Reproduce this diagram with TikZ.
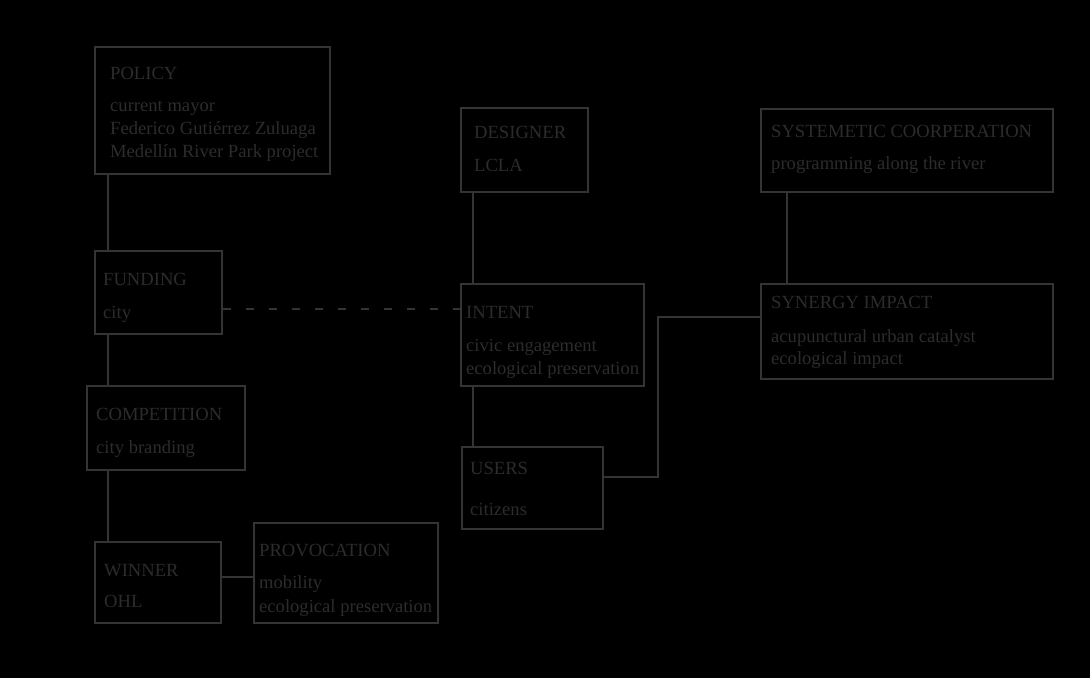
\documentclass[tikz,border=0pt]{standalone}
\usepackage{fontspec}
\setmainfont{Liberation Serif}
\usepackage{tikz}
\usetikzlibrary{positioning}

\definecolor{linegray}{RGB}{52,52,52}
\definecolor{txtgray}{RGB}{44,44,44}
\newcommand{\boxfont}{\fontsize{18.6}{23}\selectfont}

\tikzset{
    box/.style={draw=linegray, line width=2pt, anchor=north west, inner sep=0pt},
    txt/.style={anchor=base west, inner sep=0pt, text=txtgray, font=\boxfont},
    link/.style={draw=linegray, line width=2pt}
}

\begin{document}
\begin{tikzpicture}[x=1pt, y=-1pt]
    \fill[black] (0,0) rectangle (1090,678);
    \useasboundingbox (0,0) rectangle (1090,678);

    % boxes
    \node[box, minimum width=235pt, minimum height=127pt] (policy) at (94,46) {};
    \node[box, minimum width=127pt, minimum height=84pt] (designer) at (460,107) {};
    \node[box, minimum width=292pt, minimum height=83pt] (system) at (760,108) {};
    \node[box, minimum width=127pt, minimum height=83pt] (funding) at (94,250) {};
    \node[box, minimum width=183pt, minimum height=102pt] (intent) at (460,283) {};
    \node[box, minimum width=292pt, minimum height=95pt] (synergy) at (760,283) {};
    \node[box, minimum width=158pt, minimum height=84pt] (competition) at (86,385) {};
    \node[box, minimum width=141pt, minimum height=82pt] (users) at (461,446) {};
    \node[box, minimum width=126pt, minimum height=81pt] (winner) at (94,541) {};
    \node[box, minimum width=184pt, minimum height=100pt] (provocation) at (253,522) {};

    % texts
    \node[txt] (policyhd) at (110,79) {POLICY};
    \node[txt] (policya) at (110,111) {current mayor};
    \node[txt] (policyb) at (110,134) {Federico Gutiérrez Zuluaga};
    \node[txt] (policyc) at (110,157) {Medellín River Park project};

    \node[txt] (designerhd) at (474,138) {DESIGNER};
    \node[txt] (designera) at (474,171) {LCLA};

    \node[txt] (systemhd) at (771,137) {SYSTEMETIC COORPERATION};
    \node[txt] (systema) at (771,169) {programming along the river};

    \node[txt] (fundinghd) at (103,285) {FUNDING};
    \node[txt] (fundinga) at (103,318) {city};

    \node[txt] (intenthd) at (466,318) {INTENT};
    \node[txt] (intenta) at (466,351) {civic engagement};
    \node[txt] (intentb) at (466,374) {ecological preservation};

    \node[txt] (synergyhd) at (771,308) {SYNERGY IMPACT};
    \node[txt] (synergya) at (771,342) {acupunctural urban catalyst};
    \node[txt] (synergyb) at (771,364) {ecological impact};

    \node[txt] (competitionhd) at (96,420) {COMPETITION};
    \node[txt] (competitiona) at (96,453) {city branding};

    \node[txt] (usershd) at (470,474) {USERS};
    \node[txt] (usersa) at (470,515) {citizens};

    \node[txt] (winnerhd) at (104,576) {WINNER};
    \node[txt] (winnera) at (104,607) {OHL};

    \node[txt] (provocationhd) at (259,556) {PROVOCATION};
    \node[txt] (provocationa) at (259,588) {mobility};
    \node[txt] (provocationb) at (259,612) {ecological preservation};

    % connectors
    \coordinate (leftspine) at (108,0);
    \coordinate (midspine) at (473,0);
    \coordinate (rightspine) at (787,0);
    \coordinate (dashrow) at (0,309);
    \coordinate (winrow) at (0,577);
    \coordinate (bend) at (658,477);
    \coordinate (synrow) at (0,317);

    \draw[link] (policy.south -| leftspine) -- (funding.north -| leftspine);
    \draw[link] (funding.south -| leftspine) -- (competition.north -| leftspine);
    \draw[link] (competition.south -| leftspine) -- (winner.north -| leftspine);
    \draw[link] (winner.east |- winrow) -- (provocation.west |- winrow);

    \draw[link, dash pattern=on 8pt off 15pt] (funding.east |- dashrow) -- (intent.west |- dashrow);

    \draw[link] (designer.south -| midspine) -- (intent.north -| midspine);
    \draw[link] (intent.south -| midspine) -- (users.north -| midspine);

    \draw[link] (system.south -| rightspine) -- (synergy.north -| rightspine);
    \draw[link] (users.east |- bend) -- (bend) -- (bend |- synrow) -- (synergy.west |- synrow);
\end{tikzpicture}
\end{document}
